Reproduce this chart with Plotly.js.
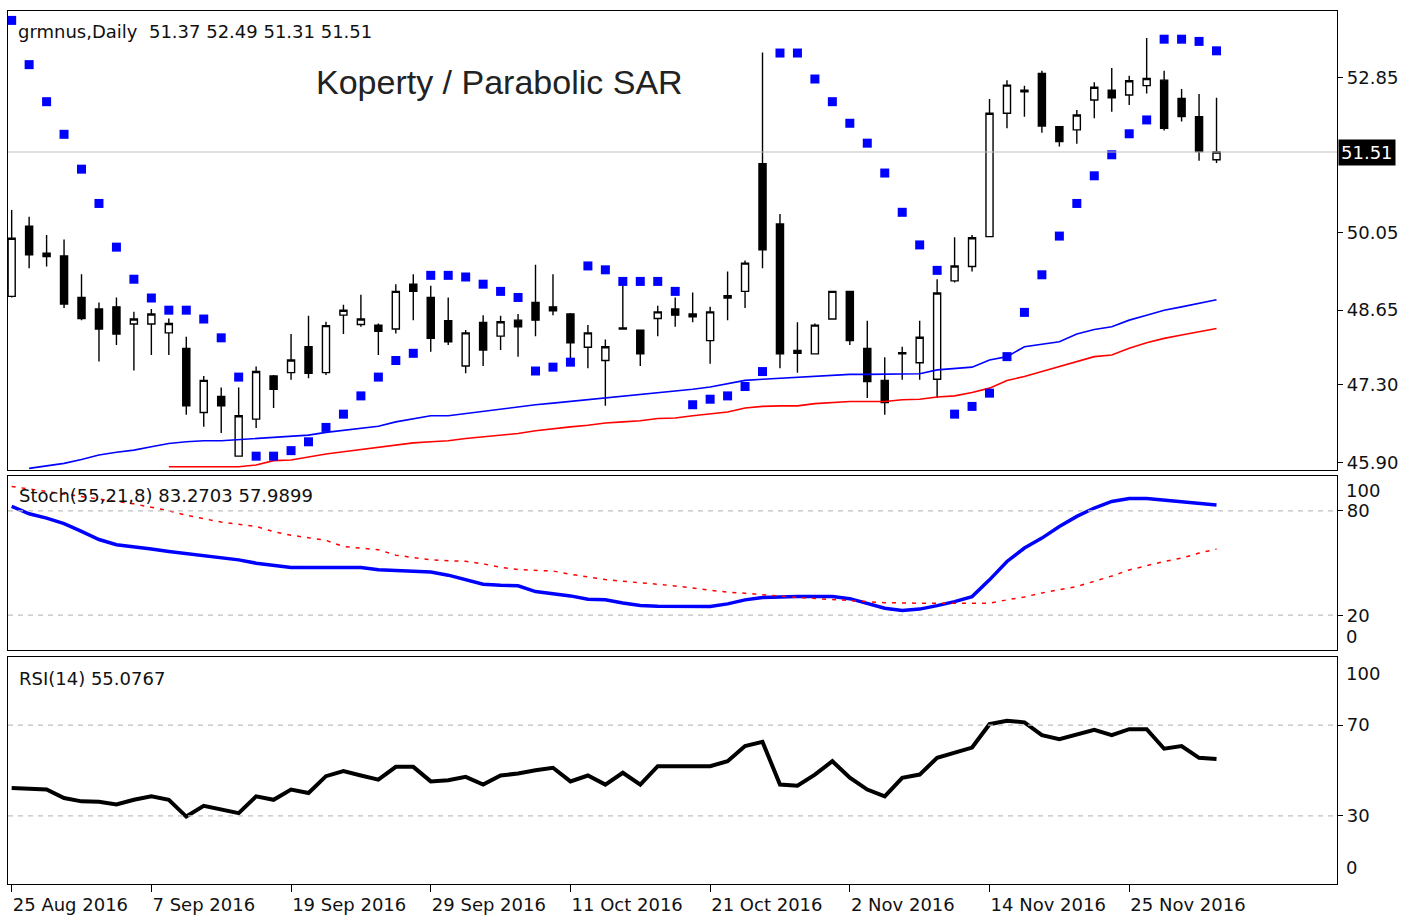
<!DOCTYPE html>
<html><head><meta charset="utf-8">
<script src="https://cdn.plot.ly/plotly-3.0.1.min.js"></script>
<style>html,body{margin:0;padding:0;background:#fff;} #chart{width:1403px;height:917px;}</style>
</head><body><div id="chart"></div>
<script>
const dates = ["2016-08-25","2016-08-26","2016-08-29","2016-08-30","2016-08-31","2016-09-01","2016-09-02","2016-09-06","2016-09-07","2016-09-08",
"2016-09-09","2016-09-12","2016-09-13","2016-09-14","2016-09-15","2016-09-16","2016-09-19","2016-09-20","2016-09-21","2016-09-22",
"2016-09-23","2016-09-26","2016-09-27","2016-09-28","2016-09-29","2016-09-30","2016-10-03","2016-10-04","2016-10-05","2016-10-06",
"2016-10-07","2016-10-10","2016-10-11","2016-10-12","2016-10-13","2016-10-14","2016-10-17","2016-10-18","2016-10-19","2016-10-20",
"2016-10-21","2016-10-24","2016-10-25","2016-10-26","2016-10-27","2016-10-28","2016-10-31","2016-11-01","2016-11-02","2016-11-03",
"2016-11-04","2016-11-07","2016-11-08","2016-11-09","2016-11-10","2016-11-11","2016-11-14","2016-11-15","2016-11-16","2016-11-17",
"2016-11-18","2016-11-21","2016-11-22","2016-11-23","2016-11-25","2016-11-28","2016-11-29","2016-11-30","2016-12-01","2016-12-02"];

const openP = [48.90,50.17,49.68,49.63,48.88,48.67,48.71,48.40,48.40,48.24,
47.96,46.80,47.09,46.01,46.68,47.46,47.52,47.99,47.52,48.56,
48.39,48.38,48.31,49.12,48.88,48.46,47.64,48.43,48.18,48.47,
48.79,48.71,48.58,47.98,47.74,48.33,48.29,48.50,48.67,48.58,
48.10,48.91,48.99,51.30,50.21,47.92,47.86,48.49,48.99,47.96,
47.38,47.88,47.70,47.40,49.18,49.44,49.98,52.21,52.63,52.93,
51.97,51.91,52.45,52.63,52.54,52.71,52.81,52.48,52.15,51.37];
const highP = [50.46,50.34,50.01,49.93,49.30,48.79,48.88,48.62,48.67,48.50,
48.17,47.46,47.25,47.25,47.63,47.48,48.22,48.55,48.44,48.75,
48.93,48.41,49.12,49.30,49.09,48.88,48.29,48.56,48.55,48.58,
49.47,49.30,48.60,48.38,48.12,49.17,48.30,48.73,48.88,48.97,
48.71,49.35,49.55,53.31,50.39,48.43,48.41,49.00,49.00,48.46,
47.80,47.99,48.46,49.21,49.97,50.01,52.47,52.81,52.71,52.98,
51.98,52.27,52.77,53.03,52.89,53.57,52.98,52.65,52.56,52.49];
const lowP = [48.88,49.41,49.44,48.69,48.47,47.72,48.02,47.56,47.84,47.84,
46.76,46.54,46.43,46.00,46.52,46.88,47.39,47.42,47.48,48.22,
48.35,47.84,48.23,48.47,47.90,48.02,47.51,47.64,47.93,47.81,
48.18,48.56,47.76,47.60,46.92,48.30,47.64,48.18,48.35,48.43,
47.68,48.47,48.69,49.41,47.60,47.52,47.85,48.48,48.02,47.06,
46.76,47.39,47.39,47.06,49.15,49.35,49.97,51.94,52.15,51.86,
51.61,51.66,52.12,52.24,52.36,52.57,51.90,52.06,51.35,51.31];
const closeP = [49.95,49.65,49.62,48.76,48.50,48.31,48.22,48.49,48.58,48.41,
46.92,47.38,46.92,46.74,47.54,47.22,47.75,47.51,48.37,48.65,
48.49,48.27,48.99,48.99,48.14,48.08,48.24,47.93,48.44,48.35,
48.47,48.64,48.06,48.24,47.99,48.31,47.86,48.62,48.56,48.53,
48.62,48.87,49.50,49.74,47.86,47.87,48.38,48.99,48.10,47.36,
46.98,47.86,48.16,48.96,49.45,49.96,52.21,52.72,52.60,51.98,
51.70,52.18,52.68,52.49,52.80,52.84,51.94,52.15,51.52,51.51];

const sar = [53.89,53.09,52.42,51.83,51.20,50.58,49.79,49.21,48.87,48.65,
48.65,48.49,48.15,47.44,46.01,46.01,46.11,46.27,46.53,46.77,
47.10,47.44,47.74,47.87,49.28,49.28,49.25,49.12,48.99,48.88,
47.55,47.62,47.71,49.45,49.38,49.17,49.17,49.17,48.99,46.94,
47.04,47.10,47.27,47.54,53.30,53.30,52.83,52.42,52.03,51.67,
51.13,50.42,49.83,49.37,46.77,46.91,47.15,47.81,48.61,49.29,
49.99,50.58,51.08,51.46,51.84,52.09,53.55,53.55,53.51,53.34];

const maBlue = [null,45.79,45.83,45.88,45.95,46.03,46.08,46.12,46.18,46.24,
46.27,46.29,46.29,46.31,46.33,46.35,46.37,46.39,46.44,46.48,
46.52,46.55,46.63,46.68,46.74,46.74,46.78,46.82,46.87,46.91,
46.94,46.97,47.00,47.03,47.06,47.09,47.12,47.15,47.18,47.22,
47.26,47.32,47.38,47.40,47.42,47.43,47.45,47.47,47.49,47.49,
47.49,47.49,47.50,47.57,47.60,47.62,47.75,47.81,47.99,48.03,
48.08,48.22,48.30,48.35,48.47,48.56,48.65,48.71,48.78,48.84];

const maRed = [null,null,null,null,null,null,null,null,null,45.82,
45.82,45.82,45.82,45.82,45.85,45.93,45.94,46.00,46.05,46.09,
46.13,46.17,46.21,46.25,46.27,46.29,46.33,46.36,46.39,46.42,
46.47,46.51,46.54,46.57,46.61,46.63,46.65,46.69,46.70,46.74,
46.77,46.81,46.88,46.91,46.92,46.92,46.96,46.98,47.00,47.00,
47.00,47.03,47.04,47.08,47.10,47.16,47.24,47.38,47.45,47.54,
47.63,47.72,47.81,47.84,47.96,48.06,48.14,48.20,48.26,48.32];

const stochMain = [82.6,78.3,75.8,72.6,68.2,63.5,60.5,59.5,58.0,56.6,
55.3,54.2,52.8,51.8,49.9,48.4,47.4,47.4,47.4,47.4,
47.4,46.1,45.6,45.1,44.8,43.0,40.5,37.8,37.2,36.9,
33.6,32.3,31.1,29.2,28.9,27.0,25.6,25.2,25.0,25.0,
25.0,26.5,28.8,30.2,30.7,30.7,30.7,30.7,29.5,27.0,
24.0,22.7,23.5,25.5,27.8,30.7,40.3,50.9,58.6,64.3,
71.0,76.8,81.6,85.4,87.0,87.0,86.0,85.4,84.1,83.27];

const stochSignal = [94.0,92.5,91.0,89.5,88.0,86.7,85.3,84.0,82.0,80.0,
77.5,75.5,73.5,72.3,71.0,68.0,66.0,64.5,63.0,59.5,
58.5,57.6,54.5,53.0,51.8,51.3,51.0,49.5,47.5,46.2,
45.8,45.4,43.5,41.8,40.5,39.5,38.8,37.8,36.8,35.5,
34.5,33.2,32.6,32.0,31.0,30.2,29.5,28.9,28.5,27.8,
27.2,26.9,26.9,26.9,26.9,26.9,26.9,28.8,30.5,32.8,
34.8,36.5,39.5,42.5,46.0,48.5,50.9,52.8,55.7,57.99];

const rsi = [42.3,42.0,41.6,37.9,36.4,36.2,35.0,37.1,38.6,37.1,
29.7,34.4,32.7,31.2,38.6,37.1,41.6,40.1,47.5,49.7,
47.8,46.0,51.6,51.6,45.2,45.7,47.2,43.8,47.8,48.7,
50.1,51.2,45.2,47.8,43.8,49.0,43.8,51.9,51.9,51.9,
51.9,54.1,60.8,62.6,43.8,43.3,48.2,54.1,46.8,41.6,
38.6,46.8,48.2,55.6,57.9,60.1,70.4,71.9,71.2,65.6,
63.8,66.0,67.9,65.6,68.2,68.2,59.6,60.8,55.6,55.08];

const tickIdx = [0,8,16,24,32,40,48,56,64];
const tickLabels = ["25 Aug 2016","7 Sep 2016","19 Sep 2016","29 Sep 2016","11 Oct 2016","21 Oct 2016","2 Nov 2016","14 Nov 2016","25 Nov 2016"];
const priceTicks = [52.85,50.05,48.65,47.30,45.90];
const lastPrice = 51.51;
const symbolText = "grmnus,Daily  51.37 52.49 51.31 51.51";
const stochText = "Stoch(55,21,8) 83.2703 57.9899";
const rsiText = "RSI(14) 55.0767";
const titleText = "Koperty / Parabolic SAR";

const FONT = '"DejaVu Sans", Verdana, sans-serif';
const FS = 18;
const TXT = '#111111';

const traces = [
  {type:'candlestick', x:dates, open:openP, high:highP, low:lowP, close:closeP,
   xaxis:'x3', yaxis:'y3', whiskerwidth:0, hoverinfo:'skip',
   increasing:{line:{color:'#000',width:1.4}, fillcolor:'#ffffff'},
   decreasing:{line:{color:'#000',width:1.4}, fillcolor:'#000000'}},
  {type:'scatter', mode:'lines', x:dates, y:maBlue, xaxis:'x3', yaxis:'y3',
   line:{color:'#0000ff', width:1.6}, hoverinfo:'skip'},
  {type:'scatter', mode:'lines', x:dates, y:maRed, xaxis:'x3', yaxis:'y3',
   line:{color:'#ff0000', width:1.6}, hoverinfo:'skip'},
  {type:'scatter', mode:'markers', x:dates, y:sar, xaxis:'x3', yaxis:'y3',
   marker:{color:'#0000ff', size:9, symbol:'square'}, hoverinfo:'skip'},
  {type:'scatter', mode:'lines', x:dates, y:stochMain, xaxis:'x2', yaxis:'y2',
   line:{color:'#0000ff', width:3.5}, hoverinfo:'skip'},
  {type:'scatter', mode:'lines', x:dates, y:stochSignal, xaxis:'x2', yaxis:'y2',
   line:{color:'#ff0000', width:1.5, dash:'4px,6px'}, hoverinfo:'skip'},
  {type:'scatter', mode:'lines', x:dates, y:rsi, xaxis:'x', yaxis:'y',
   line:{color:'#000000', width:4}, hoverinfo:'skip'}
];

const xRange = [-0.21, 75.9];
const baseX = {type:'category', range:xRange, showgrid:false, zeroline:false,
  showline:true, mirror:true, linecolor:'#000', linewidth:1.2, fixedrange:true,
  rangeslider:{visible:false}, automargin:false};
const baseY = {side:'right', showgrid:false, zeroline:false, showline:true, mirror:true,
  linecolor:'#000', linewidth:1.2, ticks:'outside', ticklen:5, tickcolor:'#000',
  tickfont:{family:FONT, size:FS, color:TXT}, fixedrange:true, automargin:false};

// paper fraction helpers (plot area: x 8..1337, y 11..884)
const px = v => (v - 8) / 1329;
const py = v => (884 - v) / 873;

const layout = {
  width:1403, height:917, showlegend:false,
  margin:{l:8, r:66, t:11, b:33, pad:0, autoexpand:false},
  paper_bgcolor:'#ffffff', plot_bgcolor:'#ffffff',
  boxgap:0.42,
  xaxis: Object.assign({}, baseX, {anchor:'y', domain:[0,1], ticks:'outside', ticklen:7, tickcolor:'#000',
     tickvals: tickIdx.map(i => dates[i]), ticktext: tickLabels, ticklabelstandoff:4,
     ticklabelposition:'outside right', tickfont:{family:FONT, size:FS, color:TXT}}),
  xaxis2: Object.assign({}, baseX, {anchor:'y2', domain:[0,1], matches:'x', showticklabels:false, ticks:''}),
  xaxis3: Object.assign({}, baseX, {anchor:'y3', domain:[0,1], matches:'x', showticklabels:false, ticks:''}),
  yaxis: Object.assign({}, baseY, {anchor:'x', domain:[0, py(657)], range:[0,100], tickvals:[30,70], ticktext:['30','70']}),
  yaxis2: Object.assign({}, baseY, {anchor:'x2', domain:[py(650), py(476)], range:[0,100], tickvals:[20,80], ticktext:['20','80']}),
  yaxis3: Object.assign({}, baseY, {anchor:'x3', domain:[py(470), 1], range:[45.76,54.06],
     tickvals:priceTicks, ticktext:priceTicks.map(v=>v.toFixed(2))}),
  shapes:[
    {type:'line', xref:'x3 domain', x0:0, x1:1, yref:'y3', y0:lastPrice, y1:lastPrice, line:{color:'#c0c0c0', width:1.2}},
    {type:'line', xref:'x2 domain', x0:0, x1:1, yref:'y2', y0:80, y1:80, line:{color:'#c0c0c0', width:1.2, dash:'5px,5px'}},
    {type:'line', xref:'x2 domain', x0:0, x1:1, yref:'y2', y0:20, y1:20, line:{color:'#c0c0c0', width:1.2, dash:'5px,5px'}},
    {type:'line', xref:'x domain', x0:0, x1:1, yref:'y', y0:70, y1:70, line:{color:'#c0c0c0', width:1.2, dash:'5px,5px'}},
    {type:'line', xref:'x domain', x0:0, x1:1, yref:'y', y0:30, y1:30, line:{color:'#c0c0c0', width:1.2, dash:'5px,5px'}}
  ],
  annotations:[
    {xref:'paper', yref:'paper', x:px(16), y:py(31), xanchor:'left', yanchor:'middle', showarrow:false,
     text:symbolText, font:{family:FONT, size:FS, color:TXT}},
    {xref:'paper', yref:'paper', x:px(499), y:py(82), xanchor:'center', yanchor:'middle', showarrow:false,
     text:titleText, font:{family:'"Liberation Sans", Arial, sans-serif', size:34, color:'#222'}},
    {xref:'paper', yref:'paper', x:px(17), y:py(495), xanchor:'left', yanchor:'middle', showarrow:false,
     text:stochText, font:{family:FONT, size:FS, color:TXT}},
    {xref:'paper', yref:'paper', x:px(17), y:py(678), xanchor:'left', yanchor:'middle', showarrow:false,
     text:rsiText, font:{family:FONT, size:FS, color:TXT}},
    {xref:'paper', yref:'y3', x:1, y:lastPrice, xanchor:'left', yanchor:'middle', xshift:1, showarrow:false,
     text:lastPrice.toFixed(2), bgcolor:'#000', borderpad:2, font:{family:FONT, size:FS, color:'#fff'}},
    {xref:'paper', yref:'paper', x:1, y:py(490), xanchor:'left', yanchor:'middle', xshift:7, showarrow:false,
     text:'100', font:{family:FONT, size:FS, color:TXT}},
    {xref:'paper', yref:'paper', x:1, y:py(636), xanchor:'left', yanchor:'middle', xshift:7, showarrow:false,
     text:'0', font:{family:FONT, size:FS, color:TXT}},
    {xref:'paper', yref:'paper', x:1, y:py(673), xanchor:'left', yanchor:'middle', xshift:7, showarrow:false,
     text:'100', font:{family:FONT, size:FS, color:TXT}},
    {xref:'paper', yref:'paper', x:1, y:py(867), xanchor:'left', yanchor:'middle', xshift:7, showarrow:false,
     text:'0', font:{family:FONT, size:FS, color:TXT}}
  ]
};

Plotly.newPlot('chart', traces, layout, {staticPlot:true, displayModeBar:false});
</script>
</body></html>
